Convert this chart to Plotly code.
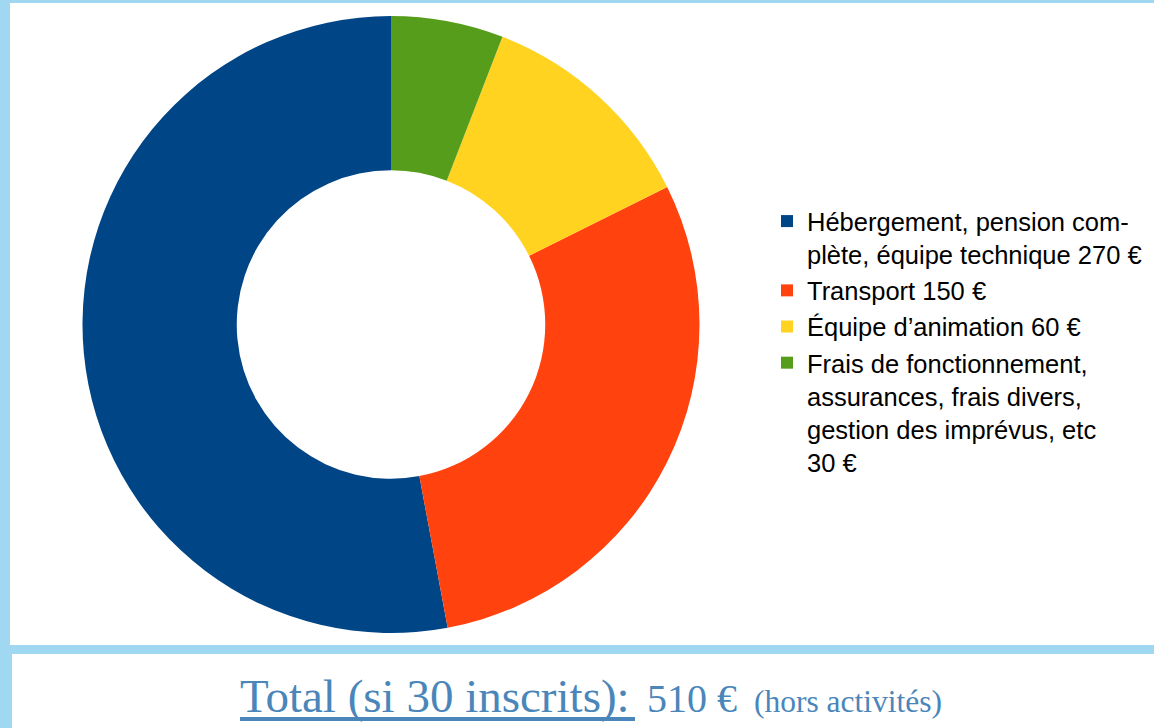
import plotly.graph_objects as go

W, H = 1154, 728

categories = [
    "Hébergement, pension com-<br>plète, équipe technique 270 €",
    "Transport 150 €",
    "Équipe d’animation 60 €",
    "Frais de fonctionnement,<br>assurances, frais divers,<br>gestion des imprévus, etc<br>30 €",
]
values = [270, 150, 60, 30]
colors = ["#004586", "#ff420e", "#ffd320", "#579d1c"]

total_label = "Total (si 30 inscrits):"
total_value = "510 €"
total_note = "(hors activités)"

def px_x(x):
    return x / W

def px_y(y):
    return 1 - y / H

cx, cy, r = 391, 324.5, 308.5

# first slice must end at 12 o'clock going counter-clockwise
rot = -360.0 * values[0] / sum(values)

fig = go.Figure(
    go.Pie(
        labels=categories,
        values=values,
        marker=dict(colors=colors, line=dict(width=0)),
        hole=0.5,
        sort=False,
        direction="counterclockwise",
        rotation=rot,
        textinfo="none",
        hoverinfo="label+value",
        domain=dict(x=[px_x(cx - r), px_x(cx + r)], y=[px_y(cy + r), px_y(cy - r)]),
    )
)

blue_bg = "#9fd8f0"
text_blue = "#4a86b9"

shapes = [
    dict(type="rect", xref="paper", yref="paper", x0=px_x(10), x1=px_x(W + 5),
         y0=px_y(645), y1=px_y(3), fillcolor="white", line=dict(width=0), layer="below"),
    dict(type="rect", xref="paper", yref="paper", x0=px_x(12), x1=px_x(W + 5),
         y0=px_y(H + 5), y1=px_y(654), fillcolor="white", line=dict(width=0), layer="below"),
    dict(type="line", xref="paper", yref="paper", x0=px_x(240), x1=px_x(635),
         y0=px_y(719), y1=px_y(719), line=dict(color=text_blue, width=4)),
]

serif = "Liberation Serif, Times New Roman, serif"
annotations = [
    dict(text=total_label, x=px_x(238), y=px_y(724), xref="paper", yref="paper",
         xanchor="left", yanchor="bottom", showarrow=False,
         font=dict(family=serif, size=47, color=text_blue)),
    dict(text=total_value, x=px_x(645), y=px_y(723), xref="paper", yref="paper",
         xanchor="left", yanchor="bottom", showarrow=False,
         font=dict(family=serif, size=40, color=text_blue)),
    dict(text=total_note, x=px_x(752), y=px_y(721), xref="paper", yref="paper",
         xanchor="left", yanchor="bottom", showarrow=False,
         font=dict(family=serif, size=31.5, color=text_blue)),
]

fig.update_layout(
    width=W, height=H,
    margin=dict(l=0, r=0, t=0, b=0),
    paper_bgcolor=blue_bg,
    plot_bgcolor="white",
    shapes=shapes,
    annotations=annotations,
    showlegend=True,
    legend=dict(
        x=px_x(767), y=px_y(198), xanchor="left", yanchor="top",
        font=dict(family="Liberation Sans, Arial, sans-serif", size=25.5, color="black"),
        bgcolor="rgba(0,0,0,0)", itemclick=False, itemdoubleclick=False,
        tracegroupgap=0, valign="top",
    ),
)

fig.write_html(
    "out.html",
    config={"displayModeBar": False},
    post_script="document.body.style.margin='0';document.body.style.background='#9fd8f0';",
)
